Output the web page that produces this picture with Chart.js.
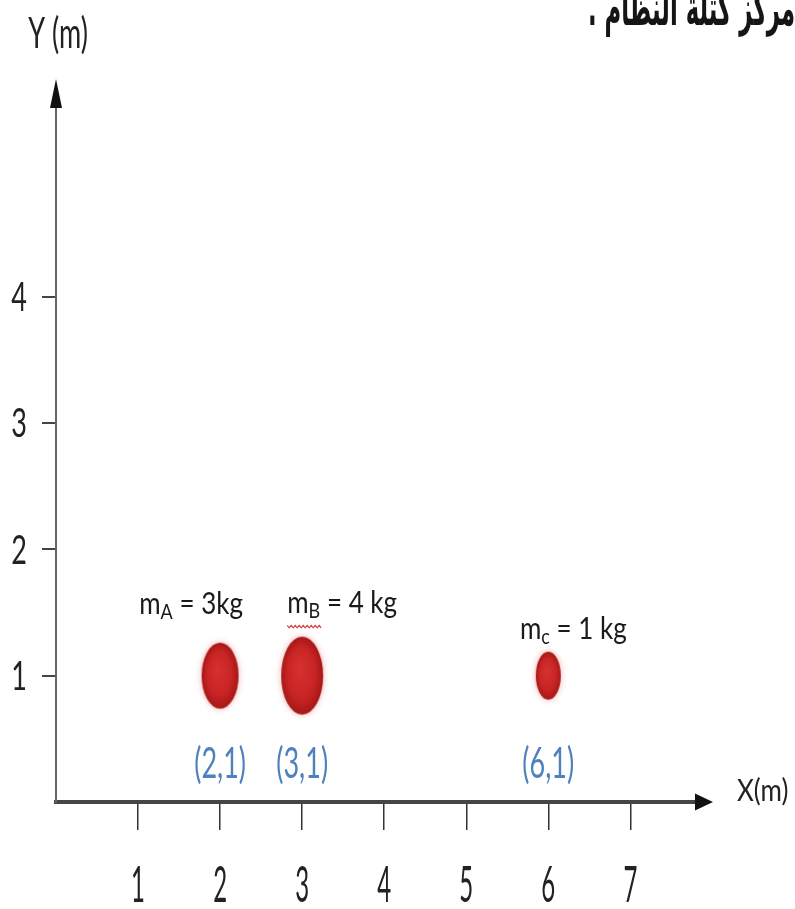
<!DOCTYPE html>
<html><head><meta charset="utf-8">
<script src="https://cdn.jsdelivr.net/npm/chart.js@4.4.1/dist/chart.umd.min.js"></script>
<style>html,body{margin:0;padding:0;background:#fff;} #wrap{width:795px;height:909px;position:relative;}</style>
</head><body><div id="wrap"><canvas id="c" width="795" height="909"></canvas></div>
<script>
// ---- data ----
const massNames = ['A', 'B', 'c'];
const massKg = [3, 4, 1];
const massUnits = ['kg', ' kg', ' kg'];
const posX = [2, 3, 6];
const posY = [1, 1, 1];
const xTicks = [1, 2, 3, 4, 5, 6, 7];
const yTicks = [1, 2, 3, 4];
const xTitle = 'X(m)';
const yTitle = 'Y (m)';
const headerText = 'مركز كتلة النظام .';

// ---- style ----
const dotW = [37, 42, 25];
const dotH = [66, 78, 48];
const labelDX = [-29, 40, 25];
const labelDY = [-62, -63, -37];
const FONT = 'Lato, "Open Sans", "Liberation Sans", sans-serif';

function makeDot(w, h) {
  const pad = 8;
  const cv = document.createElement('canvas');
  cv.width = w + pad * 2; cv.height = h + pad * 2;
  const g = cv.getContext('2d');
  g.save();
  g.translate(cv.width / 2, cv.height / 2);
  g.scale(1, h / w);
  const r = w / 2;
  const grad = g.createRadialGradient(-r * 0.15, -r * 0.2, 0, 0, 0, r);
  grad.addColorStop(0, '#d83232');
  grad.addColorStop(0.65, '#c92525');
  grad.addColorStop(1, '#a61717');
  g.shadowColor = 'rgba(220,70,70,0.45)';
  g.shadowBlur = 6;
  g.fillStyle = grad;
  g.beginPath(); g.arc(0, 0, r, 0, Math.PI * 2); g.fill();
  g.restore();
  return cv;
}
const dots = posX.map((_, i) => makeDot(dotW[i], dotH[i]));

function stretchText(ctx, str, x, y, size, sy, align, color, weight) {
  ctx.save();
  ctx.translate(x, y);
  ctx.scale(1, sy);
  ctx.font = (weight || 'normal') + ' ' + size + 'px ' + FONT;
  ctx.textAlign = align;
  ctx.textBaseline = 'alphabetic';
  ctx.fillStyle = color;
  ctx.fillText(str, 0, 0);
  ctx.restore();
}

const overlay = {
  id: 'overlay',
  afterDraw(chart) {
    const ctx = chart.ctx;
    const xs = chart.scales.x, ys = chart.scales.y;
    const a = chart.chartArea;
    const x0 = xs.getPixelForValue(0), y0 = ys.getPixelForValue(0);
    // arrows
    ctx.save();
    ctx.fillStyle = '#111';
    ctx.beginPath();
    ctx.moveTo(a.right - 1, y0 - 8.5);
    ctx.lineTo(a.right + 17, y0);
    ctx.lineTo(a.right - 1, y0 + 8.5);
    ctx.closePath(); ctx.fill();
    ctx.beginPath();
    ctx.moveTo(x0 - 6, a.top + 1);
    ctx.lineTo(x0, a.top - 28);
    ctx.lineTo(x0 + 6, a.top + 1);
    ctx.closePath(); ctx.fill();
    ctx.restore();

    // x tick labels
    xTicks.forEach(v => stretchText(ctx, String(v), xs.getPixelForValue(v), y0 + 100, 24, 2.1, 'center', '#222'));
    // y tick labels
    yTicks.forEach(v => stretchText(ctx, String(v), x0 - 29, ys.getPixelForValue(v) + 14.5, 27, 1.5, 'right', '#222'));
    // axis titles
    stretchText(ctx, xTitle, a.right + 41, y0 - 1, 26, 1.18, 'left', '#222');
    stretchText(ctx, yTitle, x0 + 2, 48, 27, 1.6, 'center', '#222');

    // mass labels and coordinates
    posX.forEach((xv, i) => {
      const px = xs.getPixelForValue(xv), py = ys.getPixelForValue(posY[i]);
      // coordinates
      stretchText(ctx, '(' + xv + ',' + posY[i] + ')', px, py + 102, 27, 1.6, 'center', '#4f81bd');
      // mass label
      const main = 26, sub = 18, sy = 1.15;
      const rest = ' = ' + massKg[i] + massUnits[i];
      ctx.save();
      ctx.font = main + 'px ' + FONT;
      const wm = ctx.measureText('m').width;
      const wr = ctx.measureText(rest).width;
      ctx.font = sub + 'px ' + FONT;
      const ws = ctx.measureText(massNames[i]).width;
      ctx.restore();
      const total = wm + ws + wr;
      const left = px + labelDX[i] - total / 2;
      const base = py + labelDY[i];
      ctx.save();
      ctx.translate(left, base);
      ctx.scale(1, sy);
      ctx.fillStyle = '#1a1a1a';
      ctx.textAlign = 'left';
      ctx.textBaseline = 'alphabetic';
      ctx.font = main + 'px ' + FONT;
      ctx.fillText('m', 0, 0);
      ctx.font = sub + 'px ' + FONT;
      ctx.fillText(massNames[i], wm, 5);
      ctx.font = main + 'px ' + FONT;
      ctx.fillText(rest, wm + ws, 0);
      ctx.restore();
      if (massNames[i] === 'B') {
        // spell-check style wavy underline
        ctx.save();
        ctx.strokeStyle = '#e04040';
        ctx.lineWidth = 1.2;
        ctx.beginPath();
        const yy = base + 14;
        for (let k = 0; k <= Math.ceil(wm + ws); k += 2) {
          const yv = yy + ((k / 2) % 2 === 0 ? -1.2 : 1.2);
          if (k === 0) ctx.moveTo(left + k, yv); else ctx.lineTo(left + k, yv);
        }
        ctx.stroke();
        ctx.restore();
      }
    });

    // Arabic header (top right, partly cut off)
    ctx.save();
    ctx.font = 'bold 34px "DejaVu Sans", sans-serif';
    ctx.direction = 'rtl';
    ctx.textAlign = 'right';
    ctx.textBaseline = 'alphabetic';
    const w = ctx.measureText(headerText).width;
    const sx = 207 / w;
    ctx.translate(795, 25);
    ctx.scale(sx, 1.45);
    ctx.fillStyle = '#151515';
    ctx.fillText(headerText, 0, 0);
    ctx.restore();
  }
};

new Chart(document.getElementById('c').getContext('2d'), {
  type: 'scatter',
  data: {
    datasets: [{
      data: posX.map((x, i) => ({ x: x, y: posY[i] })),
      pointStyle: dots,
      pointRadius: 20,
      pointHoverRadius: 20,
      clip: false
    }]
  },
  options: {
    responsive: false,
    animation: false,
    devicePixelRatio: 1,
    events: [],
    layout: { padding: { top: 107, right: 99, left: 0, bottom: 0 } },
    plugins: { legend: { display: false }, tooltip: { enabled: false } },
    scales: {
      x: {
        type: 'linear', min: 0, max: 7.8,
        afterBuildTicks: s => { s.ticks = xTicks.map(v => ({ value: v })); },
        afterFit: s => { s.height = 107; },
        ticks: { display: false },
        grid: { drawOnChartArea: false, drawTicks: true, tickLength: 28, color: '#333', lineWidth: 1.5 },
        border: { display: true, color: '#454545', width: 4 }
      },
      y: {
        type: 'linear', min: 0, max: 5.5,
        afterBuildTicks: s => { s.ticks = yTicks.map(v => ({ value: v })); },
        afterFit: s => { s.width = 56; },
        ticks: { display: false },
        grid: { drawOnChartArea: false, drawTicks: true, tickLength: 14, color: '#444', lineWidth: 2 },
        border: { display: true, color: '#666', width: 2 }
      }
    }
  },
  plugins: [overlay]
});
</script>
</body></html>
